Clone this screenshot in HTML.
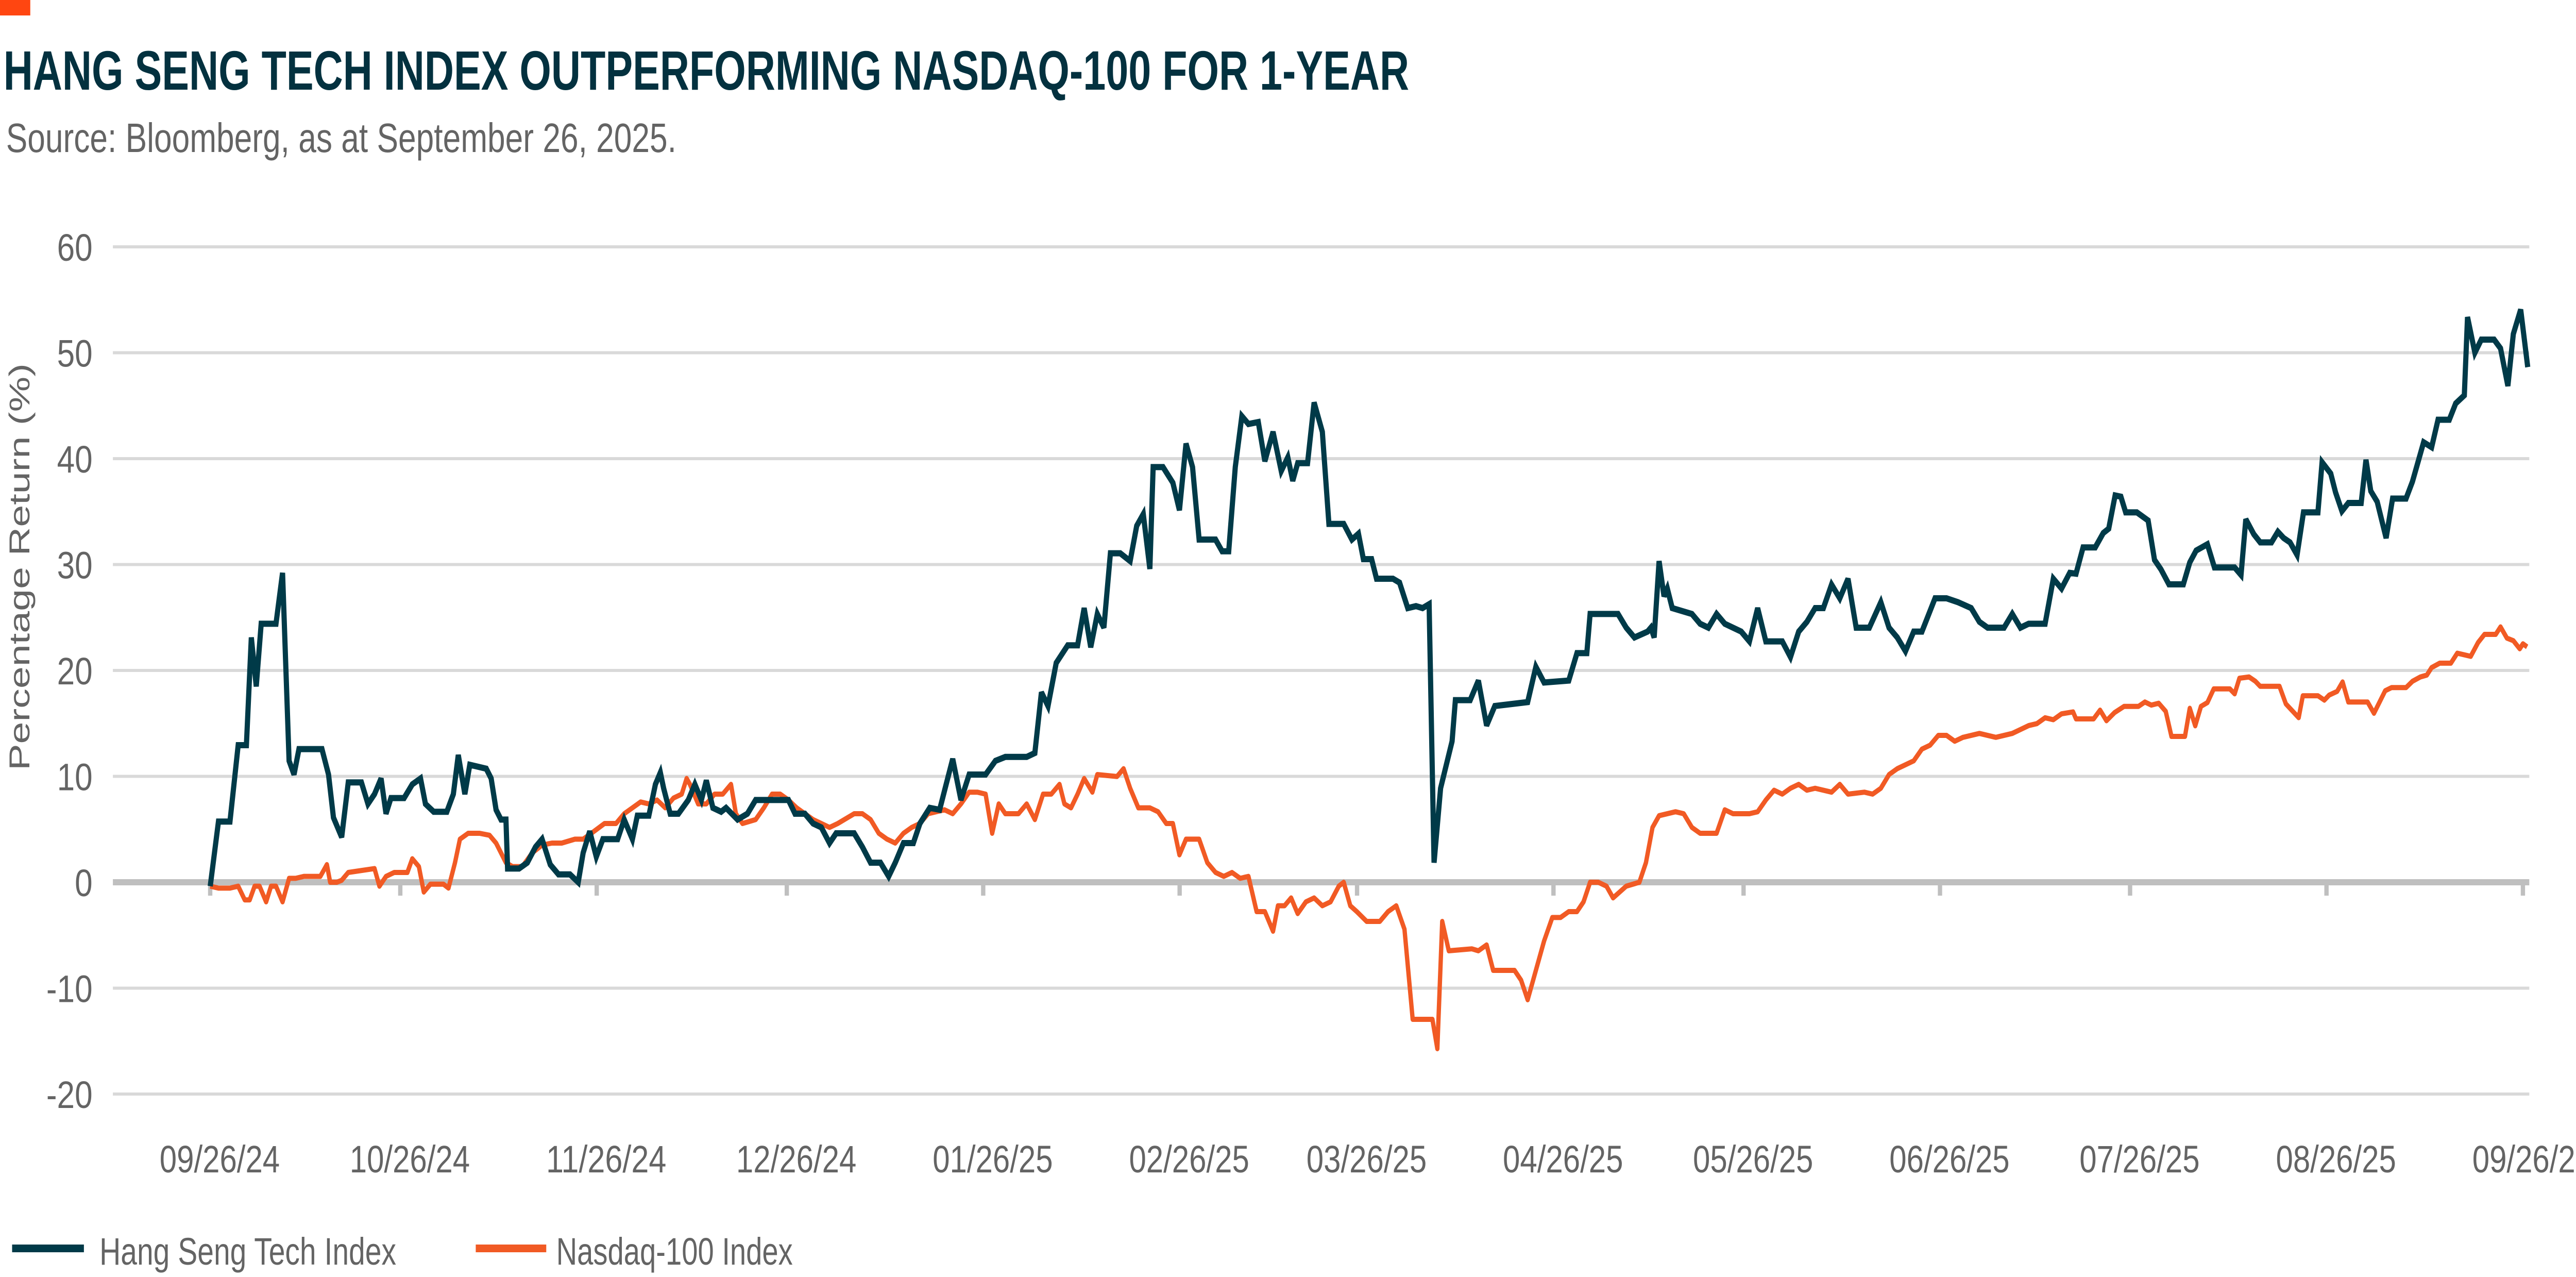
<!DOCTYPE html>
<html><head><meta charset="utf-8"><style>
html,body{margin:0;padding:0;background:#fff;overflow:hidden;width:100%;height:100%;}
svg{display:block;width:100vw;height:100vh;}
text{font-family:"Liberation Sans Narrow","Liberation Sans",sans-serif;}
</style></head><body>
<svg id="s" viewBox="0 0 5956 2478" preserveAspectRatio="none" xmlns="http://www.w3.org/2000/svg">
<rect x="0" y="0" width="70" height="30" fill="#ff4611"/>
<text x="8" y="174" font-size="108" font-weight="bold" fill="#03313f" textLength="3250" lengthAdjust="spacingAndGlyphs">HANG SENG TECH INDEX OUTPERFORMING NASDAQ-100 FOR 1-YEAR</text>
<text x="14" y="295" font-size="80" fill="#646464" textLength="1550" lengthAdjust="spacingAndGlyphs">Source: Bloomberg, as at September 26, 2025.</text>
<g id="grid"></g>
<text transform="translate(68,1100) rotate(-90)" text-anchor="middle" font-size="66" fill="#646464" textLength="790" lengthAdjust="spacingAndGlyphs">Percentage Return (%)</text>
<path id="orange" fill="none" stroke="#f15a24" stroke-width="10" stroke-linejoin="round"/>
<path id="dark" fill="none" stroke="#003a48" stroke-width="12" stroke-linejoin="miter" stroke-miterlimit="3"/>
<rect x="28" y="2415" width="166" height="15" fill="#003a48"/>
<text x="230" y="2454" font-size="74" fill="#646464" textLength="686" lengthAdjust="spacingAndGlyphs">Hang Seng Tech Index</text>
<rect x="1100" y="2415" width="163" height="15" fill="#f15a24"/>
<text x="1286" y="2454" font-size="74" fill="#646464" textLength="547" lengthAdjust="spacingAndGlyphs">Nasdaq-100 Index</text>
</svg>
<script>
var NS="http://www.w3.org/2000/svg";
var g=document.getElementById('grid');
function el(t,a,txt){var e=document.createElementNS(NS,t);for(var k in a)e.setAttribute(k,a[k]);if(txt!=null)e.textContent=txt;g.appendChild(e);return e;}
var y0=1712,u=20.55;
[60,50,40,30,20,10,-10,-20].forEach(function(v){var y=y0-v*u;
el('rect',{x:261,y:y-3,width:5587,height:6,fill:'#d9d9d9'});
el('text',{x:214,y:y+27,'font-size':74,fill:'#646464','text-anchor':'end'},String(v));});
el('text',{x:214,y:y0+27,'font-size':74,fill:'#646464','text-anchor':'end'},'0');
var days=[0,30,61,91,122,153,181,212,242,273,303,334,365];
var labs=['09/26/24','10/26/24','11/26/24','12/26/24','01/26/25','02/26/25','03/26/25','04/26/25','05/26/25','06/26/25','07/26/25','08/26/25','09/26/25'];
days.forEach(function(d,i){var x=486+d*14.65;
el('rect',{x:x-5,y:y0,width:10,height:26,fill:'#bfbfbf'});
el('text',{x:x+22,y:2275,'font-size':74,fill:'#646464','text-anchor':'middle',textLength:278,lengthAdjust:'spacingAndGlyphs'},labs[i]);});
el('rect',{x:261,y:y0-6,width:5587,height:12,fill:'#bfbfbf'});

function ov(a){var p=[];for(var i=0;i<a.length;i+=2)p.push([a[i]*3.798,1712+(a[i+1]-450)*3.8]);return p;}
function z3(a){var p=[];for(var i=0;i<a.length;i+=2){var v=(1083-a[i+1])/16.92;p.push([4800+a[i]/1.35,y0-v*u]);}return p;}
var dOv=[128,452,133,419,140,419,145,380,150,380,153,325,156,350,159,318,165,318,168,318,172,292,176,388,179,395,182,382,196,382,200,395,203,417,208,427,212,399,220,399,224,410,228,405,232,397,235,415,238,407,246,407,251,400,256,397,259,410,264,414,272,414,276,405,279,385,283,405,286,390,296,392,299,397,302,413,305,418,308,418,309,443,316,443,321,440,326,432,330,428,335,441,340,446,347,446,352,450,355,435,359,424,363,437,367,428,376,428,380,418,385,428,388,416,395,416,399,400,402,394,404,402,408,415,413,415,419,408,423,400,427,408,430,398,434,412,439,414,442,412,449,418,455,415,460,408,470,408,480,408,484,415,490,415,495,420,500,422,505,430,509,425,520,425,525,432,530,440,536,440,541,447,545,440,550,430,556,430,560,420,566,412,572,413,576,400,580,387,585,408,590,395,600,395,606,388,612,386,625,386,630,384,634,353,638,360,643,338,650,329,656,329,660,310,664,330,668,313,672,320,676,282,682,282,688,286,692,268,696,262,700,290,702,238,708,238,714,246,718,260,722,226,726,238,730,275,740,275,744,281,748,281,752,238,756,212,760,216,766,215,770,235,775,220,780,240,784,233,787,245,790,236,796,236,800,205,805,220,809,267,818,267,823,275,827,272,830,285,835,285,838,295,848,295,852,297,857,310,862,309,866,310,870,308,873,440,877,402,884,378,886,357,895,357,900,347,905,370,910,360,930,358,935,340,940,348,955,347,960,333,966,333,968,313,985,313,990,320,995,325,1003,322,1005,320,1007,325,1010,286,1013,304,1015,300,1018,310,1030,313,1035,318,1040,320,1045,313,1050,318,1060,322,1065,327,1070,310,1075,327,1085,327,1090,335,1095,322,1100,317,1105,310,1110,310,1115,298,1120,305,1125,295,1130,320,1138,320,1145,307,1150,320,1155,325,1160,332,1165,322,1170,322,1178,305,1185,305,1192,307,1200,310,1205,317,1210,320,1220,320,1225,313,1230,320,1235,318,1245,318,1250,295,1255,300,1260,292];
var dZ=[0,590,22,548,60,548,85,525,102,518,122,465,140,467,155,492,190,492,225,505,245,568,265,583,290,607,335,607,355,572,375,553,410,543,432,580,495,580,515,592,530,503,555,527,575,540,610,540,630,523,648,533,668,540,690,560,710,492,755,492,768,412,795,430,810,460,830,490,850,477,890,477,905,408,920,458,940,475,968,533,988,470,1030,470,1050,443,1085,380,1110,388,1130,344,1165,344,1185,318,1212,305,1222,180,1245,237,1265,216,1305,216,1325,230,1348,290,1365,207,1388,168,1410,260];
var oOv=[128,452,133,453,140,453,145,452,149,459,152,459,155,452,158,452,162,460,165,452,168,452,172,460,176,448,180,448,185,447,195,447,199,441,201,450,205,450,208,449,212,445,228,443,231,452,235,447,240,445,248,445,251,438,255,442,258,455,262,451,270,451,273,453,277,440,280,428,285,425,292,425,298,426,302,430,308,440,312,442,318,442,324,435,330,431,336,430,342,430,350,428,355,428,360,425,368,420,375,420,380,415,385,412,390,409,395,410,400,408,405,412,410,407,415,405,418,397,420,400,425,410,430,410,435,405,440,405,445,400,448,415,452,420,460,418,465,412,470,405,475,405,480,408,485,412,490,415,495,418,500,420,505,422,510,420,520,415,525,415,530,418,535,425,540,428,545,430,550,425,555,422,560,420,565,415,575,413,580,415,585,410,590,404,595,404,600,405,604,425,608,410,612,415,620,415,625,410,630,418,635,405,640,405,645,400,648,410,652,412,656,405,660,397,665,404,668,395,680,396,684,392,688,402,693,412,700,412,705,414,710,420,714,420,718,436,722,428,730,428,735,440,740,445,745,447,750,445,755,448,760,447,765,465,770,465,775,475,778,462,782,462,786,458,790,466,795,460,800,458,805,462,810,460,815,452,818,450,822,462,826,465,832,470,840,470,845,465,850,462,855,474,860,520,872,520,875,535,878,470,882,485,896,484,900,485,905,482,909,495,922,495,926,500,930,510,935,495,940,480,945,468,950,468,955,465,960,465,964,460,968,450,973,450,978,452,982,458,986,455,990,452,998,450,1002,440,1006,422,1010,416,1020,414,1025,415,1030,422,1035,425,1045,425,1050,413,1055,415,1065,415,1070,414,1075,408,1080,403,1085,405,1090,402,1095,400,1100,403,1105,402,1115,404,1120,400,1125,405,1135,404,1140,405,1145,402,1150,395,1155,392,1160,390,1165,388,1170,382,1175,380,1180,375,1185,375,1190,378,1195,376,1205,374,1215,376,1225,374,1230,372,1235,370,1240,369,1245,366,1250,367,1255,364,1262,363];
var oZ=[0,822,55,822,75,808,95,825,120,812,150,802,195,802,215,795,235,800,258,797,280,810,298,850,340,850,355,805,372,833,390,802,410,796,430,774,480,774,495,782,510,757,540,755,560,762,575,770,635,770,655,798,695,820,708,785,755,785,775,792,790,784,815,778,832,763,850,795,910,795,930,813,965,777,985,772,1030,772,1050,762,1075,755,1095,752,1110,740,1135,733,1170,733,1190,717,1215,720,1232,722,1255,700,1275,687,1310,687,1325,675,1345,693,1365,697,1385,710,1395,702,1408,707];
function d(p){return 'M'+p.map(function(q){return q[0].toFixed(1)+','+q[1].toFixed(1);}).join(' L');}
document.getElementById('dark').setAttribute('d',d(ov(dOv).concat(z3(dZ))));
document.getElementById('orange').setAttribute('d',d(ov(oOv).concat(z3(oZ))));
</script>
</body></html>
